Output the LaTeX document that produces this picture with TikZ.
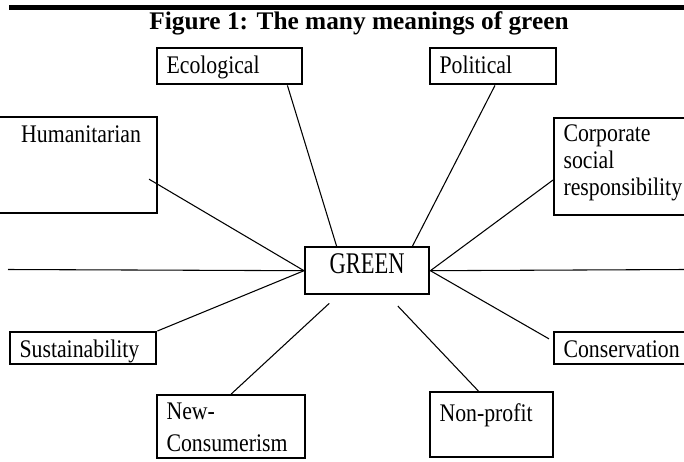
\documentclass[tikz,border=0pt]{standalone}
\usepackage{fontspec}
\setmainfont{Liberation Serif}
\newfontfamily\boxfont{Liberation Serif}[FakeStretch=0.86]
\usepackage{graphicx}
\usepackage{tikz}
\usetikzlibrary{positioning}

\begin{document}
\begin{tikzpicture}[x=0.75pt,y=-0.75pt,
    meaning/.style={draw,line width=1.8pt,anchor=north west,inner xsep=7pt,inner ysep=0pt,
      text height=18.75pt,align=left,font=\boxfont\fontsize{19}{20.25}\selectfont},
    link/.style={line width=0.8pt}]
  \useasboundingbox (0,0) rectangle (684,461);
  \clip (0,0) rectangle (684,461);
  % page rule and title
  \draw[line width=3.75pt] (9,7.5) -- (684,7.5);
  \node[anchor=base,font=\bfseries\fontsize{19}{22}\selectfont] (title) at (359,29)
    {Figure 1: The many meanings of green};
  % centre
  \node[meaning,text width=79pt,align=center,text height=20pt,text depth=15.25pt,
    font=\fontsize{22.5}{24}\selectfont] (green) at (304,246) {\scalebox{0.75}[1]{GREEN}};
  % the meanings
  \node[meaning,text width=94.75pt,text depth=8.25pt] (eco) at (156,47) {Ecological};
  \node[meaning,text width=80.5pt,text depth=8.25pt] (pol) at (429,47) {Political};
  \node[meaning,text width=125.5pt,text depth=53.25pt] (hum) at (-30,116)
    {\hspace*{30.5pt}Humanitarian};
  \node[meaning,text width=98.5pt,text height=17.25pt,text depth=55.5pt] (corp) at (553,117)
    {Corporate\\social\\responsibility};
  \node[meaning,text width=95.5pt,text depth=5.25pt] (sus) at (9,331) {Sustainability};
  \node[meaning,text width=95.5pt,text depth=5.25pt] (cons) at (553,331) {Conservation};
  \node[meaning,text width=97pt,text height=18pt,text depth=29.25pt] (newc) at (156,394)
    {New-\\[3.75pt]Consumerism};
  \node[meaning,text width=78.25pt,text height=21.75pt,text depth=27pt] (np) at (429,391)
    {Non-profit};
  \coordinate (lhs) at (8,269.5);
  \coordinate (rhs) at (684,269.5);
  % connectors
  \draw[link] ([xshift=-12pt]eco.south east) -- ([xshift=-23pt]green.north);
  \draw[link] ([xshift=49.5pt]pol.south west) -- ([xshift=34pt]green.north);
  \draw[link] ([xshift=-7pt,yshift=-10.5pt]hum.east) -- (green.west);
  \draw[link] (lhs) -- (green.west);
  \draw[link] (sus.north east) -- (green.west);
  \draw[link] ([yshift=-10pt]corp.west) -- (green.east);
  \draw[link] (green.east) -- (rhs);
  \draw[link] ([xshift=-3pt,yshift=7pt]cons.west) -- (green.east);
  \draw[link] (newc.north) -- ([xshift=-28.5pt,yshift=-6pt]green.south);
  \draw[link] ([xshift=-10pt]np.north) -- ([xshift=23pt,yshift=-8pt]green.south);
\end{tikzpicture}
\end{document}
